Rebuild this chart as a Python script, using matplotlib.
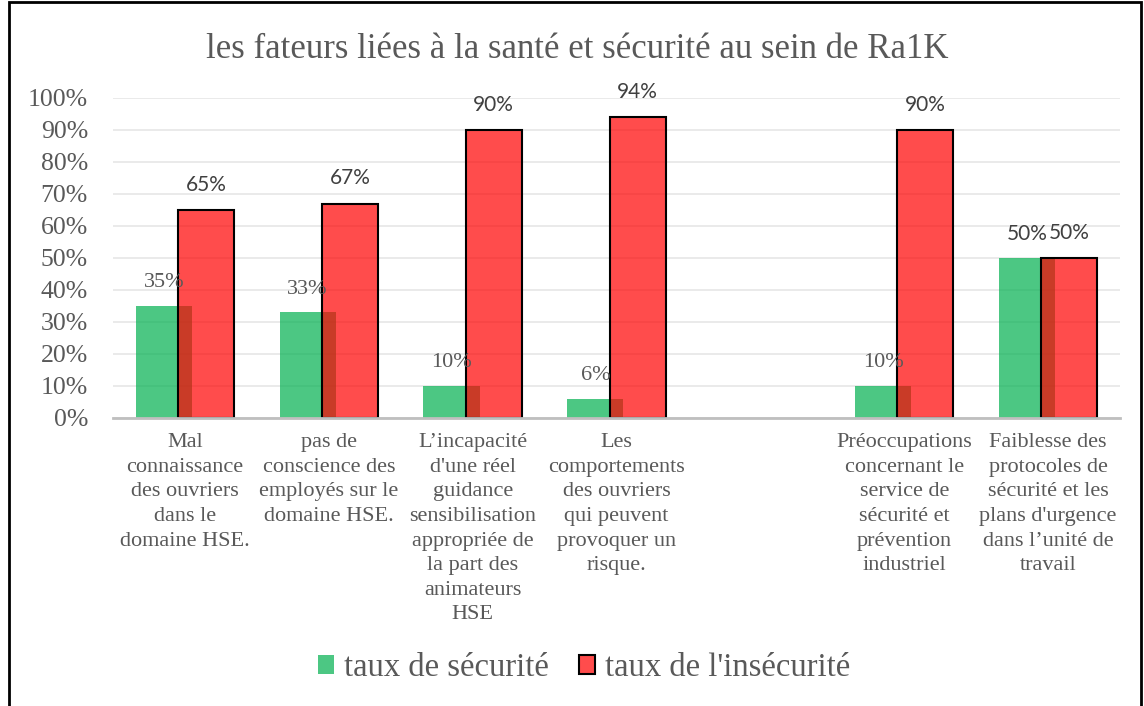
import numpy as np
import matplotlib
matplotlib.use("Agg")
import matplotlib.pyplot as plt
from matplotlib.patches import Patch, Rectangle

categories = [
    "Mal\nconnaissance\ndes ouvriers\ndans le\ndomaine HSE.",
    "pas de\nconscience des\nemployés sur le\ndomaine HSE.",
    "L\u2019incapacité\nd'une réel\nguidance\nsensibilisation\nappropriée de\nla part des\nanimateurs\nHSE",
    "Les\ncomportements\ndes ouvriers\nqui peuvent\nprovoquer un\nrisque.",
    "",
    "Préoccupations\nconcernant le\nservice de\nsécurité et\nprévention\nindustriel",
    "Faiblesse des\nprotocoles de\nsécurité et les\nplans d'urgence\ndans l\u2019unité de\ntravail",
]
securite = [0.35, 0.33, 0.10, 0.06, np.nan, 0.10, 0.50]
insecurite = [0.65, 0.67, 0.90, 0.94, np.nan, 0.90, 0.50]
yticks = [i / 10 for i in range(11)]
ytick_labels = [f"{i*10}%" for i in range(11)]
title = "les fateurs liées à la santé et sécurité au sein de Ra1K"
series_names = ["taux de sécurité", "taux de l'insécurité"]

SERIF = "Liberation Serif"
SANS = "Lato"
GRAY = "#595959"
DARK = "#404040"

fig = plt.figure(figsize=(11.44, 7.06), dpi=100)
W, H = 1144, 706
ax = fig.add_axes([113 / W, 1 - 418 / H, (1120 - 113) / W, (418 - 98) / H])

x = np.arange(len(categories))
bw = 0.39
off = 0.147
green = (0.0, 0.69, 0.31, 0.7)
red = (1.0, 0.0, 0.0, 0.7)

gb = ax.bar(x - off, securite, width=bw, color=green, linewidth=0, zorder=2)
rb = ax.bar(x + off, insecurite, width=bw, facecolor=red, edgecolor="black",
            linewidth=1.5, zorder=3)

# data labels
for i, v in enumerate(securite):
    if np.isnan(v):
        continue
    last = (i == len(securite) - 1)
    ax.annotate(f"{int(round(v*100))}%", (x[i] - off, v), xytext=(0, 10),
                textcoords="offset points", ha="center", va="bottom",
                fontsize=15 if last else 16, color=DARK if last else GRAY,
                family=SANS if last else SERIF, zorder=5)
for i, v in enumerate(insecurite):
    if np.isnan(v):
        continue
    ax.annotate(f"{int(round(v*100))}%", (x[i] + off, v), xytext=(0, 11),
                textcoords="offset points", ha="center", va="bottom",
                fontsize=15, color=DARK, family=SANS, zorder=5)

ax.set_xlim(-0.5, len(categories) - 0.5)
ax.set_ylim(0, 1.0)
ax.set_yticks(yticks)
ax.set_yticklabels(ytick_labels, family=SERIF, fontsize=18.5, color=GRAY)
ax.tick_params(axis="y", length=0, pad=18)
ax.set_xticks(x)
ax.set_xticklabels(categories, family=SERIF, fontsize=16, color=GRAY,
                   linespacing=1.4, va="top")
ax.tick_params(axis="x", length=0, pad=11)
ax.yaxis.grid(True, color="#E6E6E6", linewidth=1.2, zorder=0)
ax.set_axisbelow(True)
for s in ["top", "right", "left"]:
    ax.spines[s].set_visible(False)
ax.spines["bottom"].set_color("#BFBFBF")
ax.spines["bottom"].set_linewidth(2)
ax.spines["bottom"].set_zorder(4)

fig.text(577 / W, 1 - 49 / H, title, ha="center", va="center",
         family=SERIF, fontsize=25, color=GRAY)

handles = [Patch(facecolor=green, linewidth=0),
           Patch(facecolor=red, edgecolor="black", linewidth=1.5)]
leg = fig.legend(handles, series_names, loc="center", bbox_to_anchor=(584 / W, 1 - 668 / H),
                 ncol=2, frameon=False, prop={"family": SERIF, "size": 23.5},
                 handlelength=0.5, handleheight=0.5, handletextpad=0.3,
                 columnspacing=0.9)
for t in leg.get_texts():
    t.set_color(GRAY)

fig.patches.append(Rectangle((9 / W, -0.05), (1141 - 9) / W, 1.05 - 2 / H,
                             transform=fig.transFigure, fill=False,
                             edgecolor="black", linewidth=2))

fig.savefig("out.png", dpi=100)
